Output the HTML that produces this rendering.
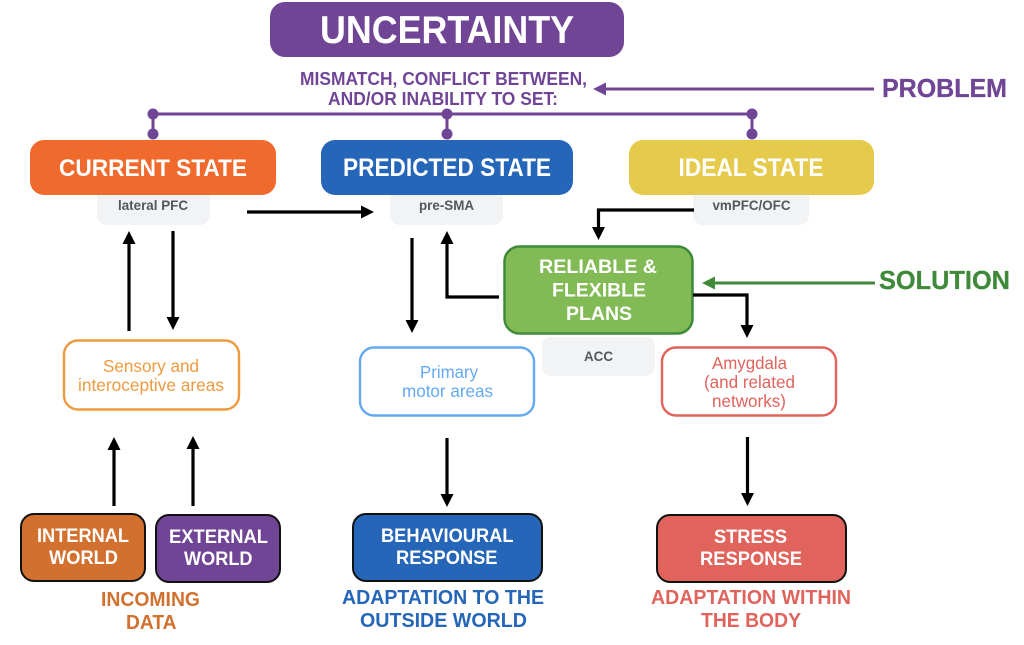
<!DOCTYPE html>
<html>
<head>
<meta charset="utf-8">
<style>
html,body{margin:0;padding:0;background:#fff;width:1024px;height:645px;overflow:hidden}
svg{display:block;filter:blur(0.35px)}
text{font-family:"Liberation Sans",Arial,sans-serif;font-weight:bold}
.n{font-weight:normal}
</style>
</head>
<body>
<svg width="1024" height="645" viewBox="0 0 1024 645" xmlns="http://www.w3.org/2000/svg">
<rect width="1024" height="645" fill="#fff"/>

<!-- gray region boxes -->
<rect x="97" y="180" width="113" height="45" rx="10" fill="#f2f3f5"/>
<rect x="390" y="180" width="113" height="45" rx="10" fill="#f2f3f5"/>
<rect x="693" y="180" width="116" height="45" rx="10" fill="#f2f3f5"/>
<rect x="542" y="337" width="113" height="39" rx="9" fill="#f2f3f5"/>

<!-- main boxes -->
<rect x="270" y="2" width="354" height="55" rx="15" fill="#704595"/>
<rect x="30" y="140" width="246" height="55" rx="14" fill="#f0692d"/>
<rect x="321" y="140" width="252" height="55" rx="14" fill="#2566b8"/>
<rect x="629" y="140" width="245" height="55" rx="14" fill="#e6ca4b"/>

<!-- purple connectors -->
<g stroke="#704595" stroke-width="3" fill="none">
<line x1="153" y1="114" x2="752" y2="114"/>
<line x1="153" y1="114" x2="153" y2="134"/>
<line x1="447" y1="114" x2="447" y2="134"/>
<line x1="752" y1="114" x2="752" y2="134"/>
<line x1="604" y1="89" x2="874" y2="89"/>
</g>
<g fill="#704595">
<circle cx="153" cy="114" r="5.5"/><circle cx="153" cy="134" r="5.5"/>
<circle cx="447" cy="114" r="5.5"/><circle cx="447" cy="134" r="5.5"/>
<circle cx="752" cy="114" r="5.5"/><circle cx="752" cy="134" r="5.5"/>
<polygon points="593,89 606,82.5 606,95.5"/>
</g>

<!-- green box & arrow -->
<rect x="504.5" y="246.5" width="188" height="87" rx="15" fill="#82bb55" stroke="#3f8a3a" stroke-width="2.5"/>
<line x1="712" y1="283" x2="875" y2="283" stroke="#3f8a3a" stroke-width="3"/>
<polygon points="702,283 715,276.5 715,289.5" fill="#3f8a3a"/>

<!-- outline boxes -->
<rect x="64" y="340.5" width="175" height="69" rx="14" fill="#fff" stroke="#ee9a3f" stroke-width="2.4"/>
<rect x="360" y="347.5" width="174" height="68" rx="14" fill="#fff" stroke="#64a9f2" stroke-width="2.4"/>
<rect x="662" y="347.5" width="174" height="68" rx="14" fill="#fff" stroke="#e0635c" stroke-width="2.4"/>

<!-- black-outlined boxes -->
<rect x="21" y="514" width="124" height="67" rx="13" fill="#d2702f" stroke="#111" stroke-width="2"/>
<rect x="156" y="515" width="124" height="67" rx="13" fill="#704595" stroke="#111" stroke-width="2"/>
<rect x="353" y="514" width="189" height="67" rx="13" fill="#2566b8" stroke="#111" stroke-width="2"/>
<rect x="657" y="515" width="189" height="67" rx="13" fill="#e0635c" stroke="#111" stroke-width="2"/>

<!-- black arrows -->
<g stroke="#000" stroke-width="3.2" fill="none">
<line x1="247" y1="212" x2="364" y2="212"/>
<line x1="129" y1="331" x2="129" y2="241"/>
<line x1="173" y1="231" x2="173" y2="320"/>
<line x1="412" y1="238" x2="412" y2="323"/>
<polyline points="499,297 447,297 447,241"/>
<polyline points="694,210 598.5,210 598.5,230"/>
<polyline points="693,295 747,295 747,328"/>
<line x1="114" y1="506" x2="114" y2="447"/>
<line x1="193" y1="506" x2="193" y2="447"/>
<line x1="447" y1="438" x2="447" y2="497"/>
<line x1="747.5" y1="437" x2="747.5" y2="496"/>
</g>
<g fill="#000">
<polygon points="374,212 361,205.5 361,218.5"/>
<polygon points="129,231 122.5,244 135.5,244"/>
<polygon points="173,330 166.5,317 179.5,317"/>
<polygon points="412,333 405.5,320 418.5,320"/>
<polygon points="447,231 440.5,244 453.5,244"/>
<polygon points="598.5,240 592,227 605,227"/>
<polygon points="747,338 740.5,325 753.5,325"/>
<polygon points="114,437 107.5,450 120.5,450"/>
<polygon points="193,436 186.5,449 199.5,449"/>
<polygon points="447,507 440.5,494 453.5,494"/>
<polygon points="747.5,506 741,493 754,493"/>
</g>

<!-- text -->
<text x="320" y="43" font-size="39" fill="#fff" textLength="254" lengthAdjust="spacingAndGlyphs">UNCERTAINTY</text>
<text x="300" y="85" font-size="18.5" fill="#704595" textLength="287" lengthAdjust="spacingAndGlyphs">MISMATCH, CONFLICT BETWEEN,</text>
<text x="328" y="105" font-size="18.5" fill="#704595" textLength="230" lengthAdjust="spacingAndGlyphs">AND/OR INABILITY TO SET:</text>
<text x="882" y="97" font-size="26" fill="#704595" stroke="#704595" stroke-width=".3" textLength="125" lengthAdjust="spacingAndGlyphs">PROBLEM</text>
<text x="879" y="289" font-size="26" fill="#3f8a3a" stroke="#3f8a3a" stroke-width=".3" textLength="131" lengthAdjust="spacingAndGlyphs">SOLUTION</text>

<text x="59" y="176" font-size="24" fill="#fff" textLength="188" lengthAdjust="spacingAndGlyphs">CURRENT STATE</text>
<text x="343" y="176" font-size="25" fill="#fff" textLength="208" lengthAdjust="spacingAndGlyphs">PREDICTED STATE</text>
<text x="678.5" y="176" font-size="25" fill="#fff" textLength="145" lengthAdjust="spacingAndGlyphs">IDEAL STATE</text>

<text x="118" y="210" font-size="14" fill="#55575c" textLength="70" lengthAdjust="spacingAndGlyphs">lateral PFC</text>
<text x="419" y="210" font-size="14" fill="#55575c" textLength="55" lengthAdjust="spacingAndGlyphs">pre-SMA</text>
<text x="712.5" y="210" font-size="14" fill="#55575c" textLength="78" lengthAdjust="spacingAndGlyphs">vmPFC/OFC</text>
<text x="584" y="361" font-size="14" fill="#55575c" textLength="29" lengthAdjust="spacingAndGlyphs">ACC</text>

<text x="539" y="273" font-size="19" fill="#fff" textLength="118" lengthAdjust="spacingAndGlyphs">RELIABLE &amp;</text>
<text x="552" y="296.5" font-size="19" fill="#fff" textLength="94" lengthAdjust="spacingAndGlyphs">FLEXIBLE</text>
<text x="566" y="320" font-size="19" fill="#fff" textLength="66" lengthAdjust="spacingAndGlyphs">PLANS</text>

<text class="n" x="103" y="372" font-size="17.5" fill="#ee9a3f" textLength="96" lengthAdjust="spacingAndGlyphs">Sensory and</text>
<text class="n" x="78" y="391" font-size="17.5" fill="#ee9a3f" textLength="146" lengthAdjust="spacingAndGlyphs">interoceptive areas</text>
<text class="n" x="420" y="378" font-size="17.5" fill="#64a9f2" textLength="58" lengthAdjust="spacingAndGlyphs">Primary</text>
<text class="n" x="402" y="397" font-size="17.5" fill="#64a9f2" textLength="91" lengthAdjust="spacingAndGlyphs">motor areas</text>
<text class="n" x="712" y="369" font-size="17.5" fill="#e0635c" textLength="75" lengthAdjust="spacingAndGlyphs">Amygdala</text>
<text class="n" x="704" y="388" font-size="17.5" fill="#e0635c" textLength="91" lengthAdjust="spacingAndGlyphs">(and related</text>
<text class="n" x="712" y="407" font-size="17.5" fill="#e0635c" textLength="74" lengthAdjust="spacingAndGlyphs">networks)</text>

<text x="37" y="542" font-size="19" fill="#fff" textLength="92" lengthAdjust="spacingAndGlyphs">INTERNAL</text>
<text x="49" y="564" font-size="19" fill="#fff" textLength="69" lengthAdjust="spacingAndGlyphs">WORLD</text>
<text x="169" y="543" font-size="19" fill="#fff" textLength="99" lengthAdjust="spacingAndGlyphs">EXTERNAL</text>
<text x="184" y="565" font-size="19" fill="#fff" textLength="68.5" lengthAdjust="spacingAndGlyphs">WORLD</text>
<text x="381" y="542" font-size="19" fill="#fff" textLength="132.5" lengthAdjust="spacingAndGlyphs">BEHAVIOURAL</text>
<text x="396" y="564" font-size="19" fill="#fff" textLength="101.5" lengthAdjust="spacingAndGlyphs">RESPONSE</text>
<text x="714" y="543" font-size="19" fill="#fff" textLength="73" lengthAdjust="spacingAndGlyphs">STRESS</text>
<text x="700" y="565" font-size="19" fill="#fff" textLength="102" lengthAdjust="spacingAndGlyphs">RESPONSE</text>

<text x="101" y="606" font-size="20.5" fill="#d2702f" textLength="99" lengthAdjust="spacingAndGlyphs">INCOMING</text>
<text x="126" y="629" font-size="20.5" fill="#d2702f" textLength="50.5" lengthAdjust="spacingAndGlyphs">DATA</text>
<text x="342" y="604" font-size="20.5" fill="#2566b8" textLength="202" lengthAdjust="spacingAndGlyphs">ADAPTATION TO THE</text>
<text x="360" y="627" font-size="20.5" fill="#2566b8" textLength="167" lengthAdjust="spacingAndGlyphs">OUTSIDE WORLD</text>
<text x="651" y="604" font-size="20.5" fill="#e0635c" textLength="200" lengthAdjust="spacingAndGlyphs">ADAPTATION WITHIN</text>
<text x="701" y="627" font-size="20.5" fill="#e0635c" textLength="100" lengthAdjust="spacingAndGlyphs">THE BODY</text>
</svg>
</body>
</html>
